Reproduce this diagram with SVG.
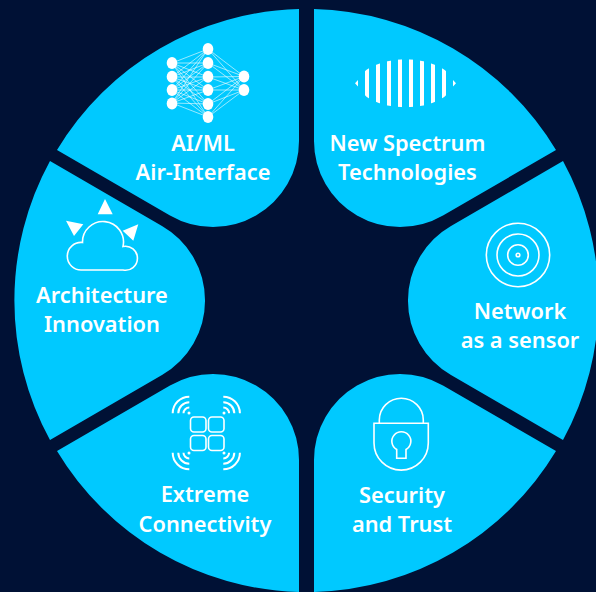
<svg xmlns="http://www.w3.org/2000/svg" width="596" height="592" viewBox="0 0 596 592">
<style>
.p{fill:#00c9ff}
.t{font-family:"Noto Sans","Open Sans",sans-serif;font-weight:600;font-size:21.8px;fill:#fff;text-anchor:middle}
.o{fill:none;stroke:#fff;stroke-width:1.6}
.w{fill:#fff}
.l{fill:none;stroke:#fff;stroke-width:.7;opacity:.85}
.a{fill:none;stroke:#fff;stroke-width:2;stroke-linecap:butt}
</style>
<defs><clipPath id="lens"><ellipse cx="405.5" cy="83.3" rx="47" ry="24"/></clipPath></defs>
<rect width="596" height="592" fill="#001135"/>
<g id="ai-ml">
<path class="p" d="M299,9A291,291 0 0 0 57,150L170,215.5A86,86 0 0 0 299,141Z"/>
<path class="l" d="M172,63L208,49M172,63L208,63M172,63L208,77M172,63L208,90M172,63L208,104M172,63L208,117M172,77L208,49M172,77L208,63M172,77L208,77M172,77L208,90M172,77L208,104M172,77L208,117M172,90L208,49M172,90L208,63M172,90L208,77M172,90L208,90M172,90L208,104M172,90L208,117M172,103L208,49M172,103L208,63M172,103L208,77M172,103L208,90M172,103L208,104M172,103L208,117M208,49L244,76.5M208,49L244,90M208,63L244,76.5M208,63L244,90M208,77L244,76.5M208,77L244,90M208,90L244,76.5M208,90L244,90M208,104L244,76.5M208,104L244,90M208,117L244,76.5M208,117L244,90"/>
<g class="w"><ellipse cx="172" cy="63" rx="5.3" ry="6"/><ellipse cx="172" cy="76.7" rx="5.3" ry="6"/><ellipse cx="172" cy="90" rx="5.3" ry="6"/><ellipse cx="172" cy="103.5" rx="5.3" ry="6"/><ellipse cx="208" cy="49" rx="5.3" ry="6"/><ellipse cx="208" cy="63" rx="5.3" ry="6"/><ellipse cx="208" cy="76.7" rx="5.3" ry="6"/><ellipse cx="208" cy="90" rx="5.3" ry="6"/><ellipse cx="208" cy="104" rx="5.3" ry="6"/><ellipse cx="208" cy="117" rx="5.3" ry="6"/><ellipse cx="244" cy="76.5" rx="5.3" ry="6"/><ellipse cx="244" cy="90" rx="5.3" ry="6"/></g>
<text class="t" x="203" y="151">AI/ML</text><text class="t" x="203" y="180">Air-Interface</text>
</g>
<g id="new-spectrum">
<path class="p" d="M314,9A291,291 0 0 1 556,150L443,215.5A86,86 0 0 1 314,141Z"/>
<g class="w" clip-path="url(#lens)"><rect x="365" y="55" width="4" height="56"/><rect x="376" y="55" width="4" height="56"/><rect x="387" y="55" width="4" height="56"/><rect x="398" y="55" width="4" height="56"/><rect x="409" y="55" width="4" height="56"/><rect x="420" y="55" width="4" height="56"/><rect x="431" y="55" width="4" height="56"/><rect x="442" y="55" width="4" height="56"/></g>
<path class="w" d="M355,83.3L358,80V86.6ZM456,83.3L453,80V86.6Z"/>
<text class="t" x="407.5" y="151">New Spectrum</text><text class="t" x="407.5" y="180">Technologies</text>
</g>
<g id="network-sensor">
<path class="p" d="M563,161A291,291 0 0 1 563,440L451,375A86,86 0 0 1 451,226Z"/>
<g class="o"><circle cx="518" cy="255" r="31.7"/><circle cx="518" cy="255" r="21"/><circle cx="518" cy="255" r="10.3"/><circle cx="518" cy="255" r="1.8"/></g>
<text class="t" x="520" y="319">Network</text><text class="t" x="520" y="348">as a sensor</text>
</g>
<g id="security">
<path class="p" d="M556,451A291,291 0 0 1 314,592V460A86,86 0 0 1 443,385.5Z"/>
<g class="o"><path d="M374,423.3H428.3V443A27,27 0 0 1 374,443Z"/><path d="M379.3,423V420A22,21.7 0 0 1 423.3,420V423"/><path d="M396.7,458.3H406V449.5A9.5,9.5 0 1 0 396.7,449.5Z"/></g>
<text class="t" x="402" y="503">Security</text><text class="t" x="402" y="532">and Trust</text>
</g>
<g id="extreme-connectivity">
<path class="p" d="M57,451A291,291 0 0 0 299,592V460A86,86 0 0 0 170,385.5Z"/>
<g class="o"><rect x="190.5" y="417" width="15.5" height="15" rx="3.5"/><rect x="208.5" y="417" width="15.5" height="15" rx="3.5"/><rect x="190.5" y="435.5" width="15.5" height="15" rx="3.5"/><rect x="208.5" y="435.5" width="15.5" height="15" rx="3.5"/></g>
<g class="a"><path d="M172.7,413.3A16.6,16.6 0 0 1 189.3,396.7M178.3,413.3A11,11 0 0 1 189.3,402.3M183.5,413.3A5.8,5.8 0 0 1 189.3,407.5M223.3,396.7A16.6,16.6 0 0 1 239.9,413.3M223.3,402.3A11,11 0 0 1 234.3,413.3M223.3,407.5A5.8,5.8 0 0 1 229.1,413.3M172.7,452.7A16.6,16.6 0 0 0 189.3,469.3M178.3,452.7A11,11 0 0 0 189.3,463.7M183.5,452.7A5.8,5.8 0 0 0 189.3,458.5M239.9,452.7A16.6,16.6 0 0 1 223.3,469.3M234.3,452.7A11,11 0 0 1 223.3,463.7M229.1,452.7A5.8,5.8 0 0 1 223.3,458.5"/></g>
<g class="w"><circle cx="189" cy="413" r="1.5"/><circle cx="224" cy="413" r="1.5"/><circle cx="189" cy="453" r="1.5"/><circle cx="224" cy="453" r="1.5"/></g>
<text class="t" x="205" y="502">Extreme</text><text class="t" x="205" y="532">Connectivity</text>
</g>
<g id="architecture">
<path class="p" d="M50,161A291,291 0 0 0 50,440L162,375A86,86 0 0 0 162,226Z"/>
<path class="o" d="M82,270A13.8,13.8 0 1 1 82.5,242.5A20.5,20.5 0 1 1 123,246.5A12,12 0 1 1 123,270Z"/>
<path class="w" d="M105,199L97.7,214.3H112.7ZM66,220.7L83.3,224.3L74,236ZM138.3,224.3L122.7,230.7L133.3,240.7Z"/>
<text class="t" x="102" y="303">Architecture</text><text class="t" x="102" y="332">Innovation</text>
</g>
</svg>
